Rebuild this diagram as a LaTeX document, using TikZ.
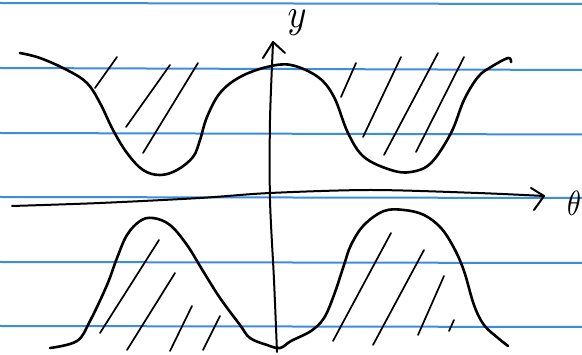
\documentclass[tikz,border=0pt]{standalone}
\usetikzlibrary{arrows.meta}
\definecolor{rule}{RGB}{60,140,225}
\tikzset{
  ruleline/.style={rule, line width=2pt},
  curve/.style={black, line width=2.6pt, line cap=round, line join=round},
  hatch/.style={black, line width=1.7pt, line cap=round},
  axis/.style={black, line width=2pt, line cap=round, line join=round},
  lab/.style={inner sep=0pt},
}
\begin{document}
\begin{tikzpicture}[x=1pt,y=-1pt]
\useasboundingbox[fill=white] (0,0) rectangle (582,355);
% ruled paper
\foreach \yy/\dd in {3/1, 68/2, 133/1.5, 197/1, 262/1, 326/1}
  \draw[ruleline] (0,\yy) -- (582,\yy+\dd);
% theta axis
\draw[axis] plot[smooth] coordinates {(12,206) (100,203) (200,198) (270,193) (371,190) (478,193) (544,196)};
\draw[axis] (531,188) -- (544,196) -- (534,210);
\node[lab] (th) at (574,203) {\scalebox{2.8}[3.5]{$\theta$}};
% y axis
\draw[axis] plot[smooth] coordinates {(273,43) (270,120) (270,200) (274,280) (277,352)};
\draw[axis] (263,58) -- (273,42) -- (285,53);
\node[lab] (ylab) at (297,23) {\scalebox{3.6}[4.1]{$y$}};
% upper curve
\draw[curve] plot[smooth, tension=0.6] coordinates {
 (20,53) (40,58) (67,70) (87,83) (100,103) (113,130) (127,153) (143,170) (160,175)
 (177,170) (193,157) (200,140) (207,117) (220,93) (240,77) (267,67) (291,65)
 (318,77) (334,97) (348,133) (364,157) (391,170) (411,172) (431,163) (451,133)
 (464,100) (478,77) (491,67) (508,58) (511,62)};
% upper hatching
\draw[hatch] (95,88) -- (117,57);
\draw[hatch] (126,127) -- (170,65);
\draw[hatch] (143,153) -- (198,63);
\draw[hatch] (341,97) -- (356,63);
\draw[hatch] (363,137) -- (401,57);
\draw[hatch] (384,155) -- (438,53);
\draw[hatch] (416,152) -- (464,57);
% lower curve
\draw[curve] plot[smooth, tension=0.6] coordinates {
 (50,348) (77,341) (90,321) (107,285) (117,258) (127,235) (140,221) (153,218)
 (170,225) (187,245) (203,271) (220,298) (240,325) (250,338) (267,345) (280,348)
 (291,341) (311,331) (324,318) (334,295) (344,265) (351,245) (364,225) (384,211)
 (404,210) (424,215) (441,228) (454,248) (464,271) (474,305) (484,325) (498,338) (508,346)};
% lower hatching
\draw[hatch] (100,333) -- (159,240);
\draw[hatch] (127,350) -- (175,273);
\draw[hatch] (170,351) -- (192,306);
\draw[hatch] (203,350) -- (220,316);
\draw[hatch] (333,341) -- (391,233);
\draw[hatch] (373,345) -- (424,250);
\draw[hatch] (418,335) -- (444,276);
\draw[hatch] (449,331) -- (454,320);
\end{tikzpicture}
\end{document}
